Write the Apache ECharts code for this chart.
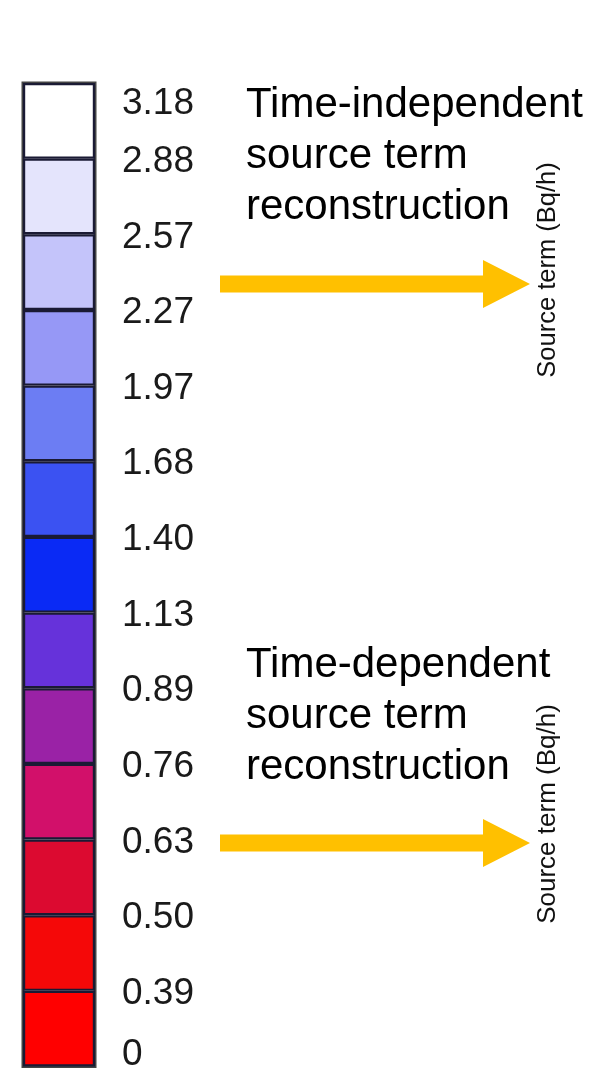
<!DOCTYPE html>
<html>
<head>
<meta charset="utf-8">
<script src="https://cdn.jsdelivr.net/npm/echarts@6/dist/echarts.min.js"></script>
<style>
html,body{margin:0;padding:0;background:#fff;}
#main{width:594px;height:1073px;}
</style>
</head>
<body>
<div id="main"></div>
<script>
// Colour-bar band boundaries (tick labels, bottom to top)
var tickLabels = ['0', '0.39', '0.50', '0.63', '0.76', '0.89', '1.13', '1.40', '1.68', '1.97', '2.27', '2.57', '2.88', '3.18'];
// Band colours, bottom to top
var bandColors = ['#ff0000', '#f50808', '#dc0a30', '#d2106a', '#9a22a6', '#6632da', '#0a2af5', '#3b52f2', '#6c7df3', '#9698f6', '#c4c4fa', '#e4e4fc', '#ffffff'];
// Band heights (each band occupies one equal step of the colour bar)
var bandSizes = [1, 1, 1, 1, 1, 1, 1, 1, 1, 1, 1, 1, 1];
// Annotation texts
var annotationTexts = ['Time-independent\nsource term\nreconstruction', 'Time-dependent\nsource term\nreconstruction'];
var axisTitle = 'Source term (Bq/h)';

var chart = echarts.init(document.getElementById('main'), null, {renderer: 'canvas'});

var series = bandColors.map(function (c, i) {
  return {
    type: 'bar',
    stack: 'colorbar',
    barWidth: '100%',
    data: [bandSizes[i]],
    itemStyle: {color: c, borderColor: '#1a1a34', borderWidth: 2.2},
    emphasis: {disabled: true},
    silent: true
  };
});

var arrowColor = '#ffc000';
function arrow(yc) {
  return {
    type: 'polygon',
    shape: {points: [[220, yc - 8.5], [483, yc - 8.5], [483, yc - 24], [530, yc], [483, yc + 24], [483, yc + 8.5], [220, yc + 8.5]]},
    style: {fill: arrowColor}
  };
}

var labelFont = 'Liberation Sans, Arial, sans-serif';
var option = {
  backgroundColor: '#ffffff',
  animation: false,
  grid: {left: 23, top: 83, width: 72, height: 987, show: true, borderColor: '#444', borderWidth: 3, backgroundColor: 'transparent'},
  xAxis: {type: 'category', data: ['bar'], show: false},
  yAxis: {
    type: 'value', min: 0, max: 13, interval: 1, position: 'right',
    axisLine: {show: false}, axisTick: {show: false}, splitLine: {show: false},
    axisLabel: {
      margin: 27, color: '#1a1a1a', fontFamily: labelFont, fontSize: 37, align: 'left',
      formatter: function (v) {
        var k = Math.round(v);
        var s = tickLabels[k];
        if (k === 13) return '{top|' + s + '}';
        if (k === 0) return '{bot|' + s + '}';
        return '{mid|' + s + '}';
      },
      rich: {
        mid: {fontSize: 37, fontFamily: labelFont, color: '#1a1a1a', padding: [6, 0, 0, 0]},
        top: {fontSize: 37, fontFamily: labelFont, color: '#1a1a1a', padding: [42, 0, 0, 0]},
        bot: {fontSize: 37, fontFamily: labelFont, color: '#1a1a1a', padding: [0, 0, 24, 0]}
      }
    }
  },
  series: series,
  graphic: [
    arrow(284),
    arrow(843),
    {type: 'text', x: 246, y: 80, style: {text: annotationTexts[0], font: '42px "Liberation Sans", Arial, sans-serif', fill: '#000', lineHeight: 51, textVerticalAlign: 'top'}},
    {type: 'text', x: 246, y: 640, style: {text: annotationTexts[1], font: '42px "Liberation Sans", Arial, sans-serif', fill: '#000', lineHeight: 51, textVerticalAlign: 'top'}},
    {type: 'text', x: 548, y: 270, rotation: Math.PI / 2, style: {text: axisTitle, font: '25.5px "Liberation Sans", Arial, sans-serif', fill: '#111', align: 'center', verticalAlign: 'middle'}},
    {type: 'text', x: 548, y: 814, rotation: Math.PI / 2, style: {text: axisTitle, font: '26px "Liberation Sans", Arial, sans-serif', fill: '#111', align: 'center', verticalAlign: 'middle'}}
  ]
};
chart.setOption(option);
</script>
</body>
</html>
